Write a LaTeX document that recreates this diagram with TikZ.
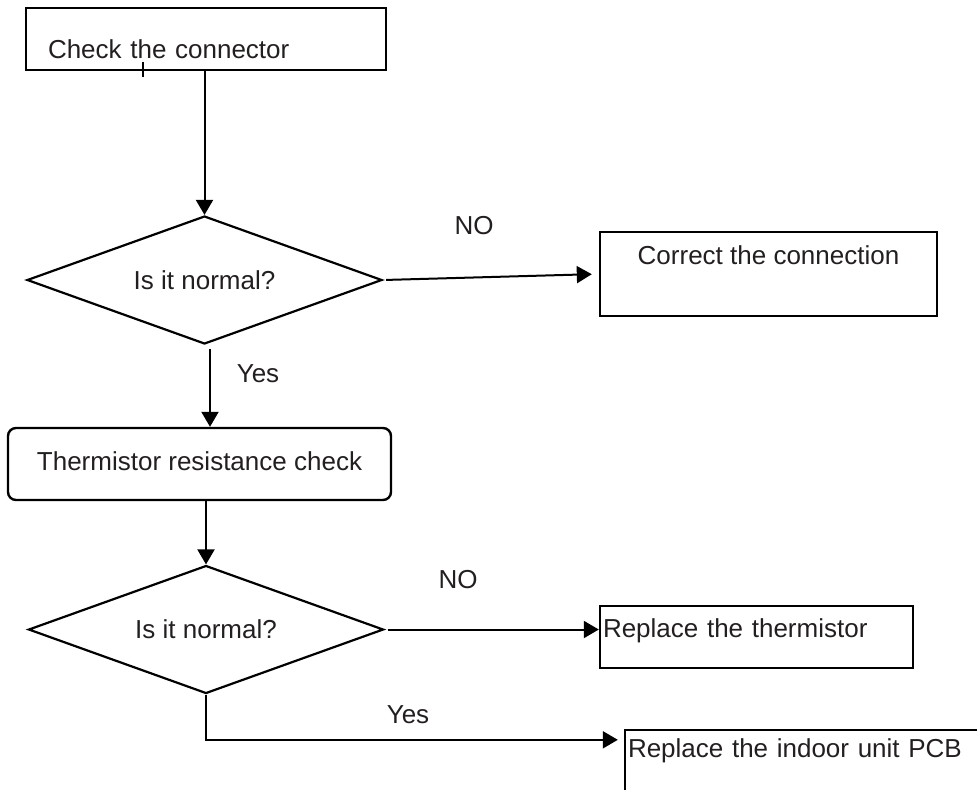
\documentclass[tikz,border=0pt]{standalone}
\usepackage{fontspec}
\setmainfont{Liberation Sans}
\usetikzlibrary{shapes.geometric,positioning,arrows.meta}
\definecolor{inkgray}{RGB}{35,31,32}

\begin{document}
\begin{tikzpicture}[
      x=0.5pt, y=-0.5pt,
      every node/.style={
        text=inkgray,
        font=\fontsize{13pt}{15pt}\selectfont
      },
      stepbox/.style={
        rectangle,
        draw,
        line width=1.2pt,
        inner ysep=0pt
      },
      decide/.style={
        diamond,
        draw,
        line width=1.1pt,
        inner sep=0pt,
        aspect=2.77,
        minimum width=177.5pt,
        minimum height=64pt
      },
      tag/.style={
        draw=none
      },
      arrow/.style={
        line width=1pt,
        -{Triangle[length=7.5pt,width=8.5pt]}
      }
    ]
      \clip (0,0) rectangle (977,789);

      \node[
        stepbox,
        minimum width=180pt,
        inner xsep=11pt,
        text width=158pt,
        align=left,
        text height=25pt,
        text depth=6pt
      ] (check) at (206,39) {Check the connector};

      \node[decide] (d1) at (204.5,280) {Is it normal?};

      \node[
        stepbox,
        minimum width=168.5pt,
        text height=16pt,
        text depth=26pt
      ] (fix) at (768.5,274) {Correct the connection};

      \node[
        stepbox,
        rounded corners=4pt,
        minimum width=191.5pt,
        text height=21pt,
        text depth=15pt
      ] (therm) at (199.5,464) {Thermistor resistance check};

      \node[decide] (d2) at (206,629.5) {Is it normal?};

      \node[
        stepbox,
        inner xsep=1.5pt,
        text width=153.5pt,
        align=left,
        text height=15.5pt,
        text depth=15.5pt
      ] (rep) at (756.5,637) {Replace the thermistor};

      \node[
        stepbox,
        inner xsep=1.5pt,
        text width=177pt,
        align=left,
        text height=13.5pt,
        text depth=21.5pt
      ] (pcb) at (805,765) {Replace the indoor unit PCB};

      \coordinate (y1) at (210,349);

      \draw[line width=0.8pt] (143,62) -- (143,77);

      \draw[arrow] (check.south -| d1.north) -- (d1.north);
      \draw[arrow, shorten <=1.5pt, shorten >=3.5pt] (d1.east) -- (fix.west);
      \draw[arrow] (y1) -- (y1 |- therm.north);
      \draw[arrow] (therm.south -| d2.north) -- (d2.north);
      \draw[arrow, shorten <=1.5pt] (d2.east) -- (d2.east -| rep.west);
      \draw[arrow, shorten >=3pt] (d2.south) |- ([yshift=-5.5pt]pcb.north west);

      \node[tag] (no1) at (474,226) {NO};
      \node[tag] (yes1) at (258,374) {Yes};
      \node[tag] (no2) at (458,580) {NO};
      \node[tag] (yes2) at (408,715) {Yes};
    \end{tikzpicture}
\end{document}
